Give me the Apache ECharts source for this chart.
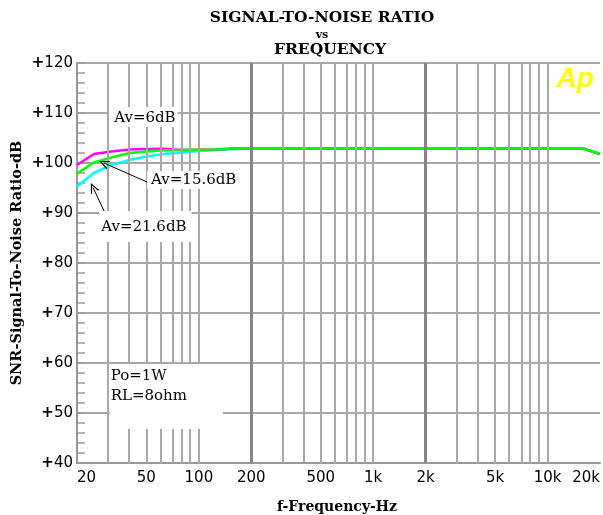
<!DOCTYPE html>
<html><head><meta charset="utf-8">
<script src="https://cdn.jsdelivr.net/npm/echarts@6/dist/echarts.min.js"></script>
<style>html,body{margin:0;padding:0;background:#fff}#c{width:603px;height:515px}</style>
</head><body><div id="c"></div>
<script>
// ---- data ----
const freqs = [20,25,31.5,40,50,63,80,100,125,160,200,250,315,400,500,630,800,1000,1250,1600,2000,2500,3150,4000,5000,6300,8000,10000,12500,16000,20000];
const snrAv6   = [99.6,101.8,102.3,102.7,102.8,102.85,102.6,102.65,102.7,102.9, 102.9,102.9,102.9,102.9,102.9,102.9,102.9,102.9,102.9,102.9,102.9,102.9,102.9,102.9,102.9,102.9,102.9,102.9,102.9,102.9, 101.8];
const snrAv156 = [97.9,100.1,101.1,102.0,102.3,102.55,102.6,102.65,102.7,102.9, 102.9,102.9,102.9,102.9,102.9,102.9,102.9,102.9,102.9,102.9,102.9,102.9,102.9,102.9,102.9,102.9,102.9,102.9,102.9,102.9, 101.8];
const snrAv216 = [95.3,98.0,99.6,100.6,101.3,101.8,102.1,102.4,102.6,102.8, 102.9,102.9,102.9,102.9,102.9,102.9,102.9,102.9,102.9,102.9,102.9,102.9,102.9,102.9,102.9,102.9,102.9,102.9,102.9,102.9, 101.8];
const xTickValues = [20,50,100,200,500,1000,2000,5000,10000,20000];
const xTickLabels = ['20','50','100','200','500','1k','2k','5k','10k','20k'];
const minorGridFreqs = [30,40,50,60,70,80,90,100,300,400,500,600,700,800,900,1000,3000,4000,5000,6000,7000,8000,9000,10000];
const majorGridFreqs = [200,2000];
const yMin = 40, yMax = 120, yStep = 10;

// ---- chart ----
const lg = Math.log10;
const pts = arr => freqs.map((f, i) => [lg(f), arr[i]]);
const serif = '"DejaVu Serif"';
const sans = '"DejaVu Sans"';

function boxLabel(text, padding, extra) {
  return Object.assign({
    show: true, formatter: text, position: [0, 0], align: 'left', verticalAlign: 'top',
    backgroundColor: '#fff', padding: padding, color: '#000', opacity: 1,
    fontFamily: serif, fontSize: 15, lineHeight: 16, textBorderWidth: 0
  }, extra || {});
}

const chevron = 'path://M0,10 L5,0 L10,10 L8.6,10 L5,2.6 L1.4,10 Z';

const option = {
  animation: false,
  backgroundColor: '#fff',
  grid: { left: 77, right: 0, top: 63, bottom: 52, containLabel: false },
  xAxis: {
    type: 'value', min: lg(20), max: lg(20000),
    axisLine: { show: true, onZero: false, lineStyle: { color: '#999', width: 2 } },
    axisTick: { show: false },
    splitLine: { show: false },
    axisLabel: {
      customValues: xTickValues.map(lg),
      formatter: v => { const i = xTickValues.findIndex(t => Math.abs(lg(t) - v) < 1e-6); return i >= 0 ? xTickLabels[i] : ''; },
      color: '#000', fontFamily: sans, fontSize: 15, margin: 8,
      alignMinLabel: 'left', alignMaxLabel: 'right', hideOverlap: false
    }
  },
  yAxis: {
    type: 'value', min: yMin, max: yMax, interval: yStep,
    axisLine: { show: true, lineStyle: { color: '#999', width: 2 } },
    axisTick: { show: true, inside: true, length: 8, lineStyle: { color: '#999', width: 1.5 } },
    minorTick: { show: true, splitNumber: 5, length: 8, lineStyle: { color: '#999', width: 1.5 } },
    splitLine: { show: true, lineStyle: { color: '#a8a8a8', width: 2 } },
    axisLabel: {
      margin: 4, color: '#000',
      formatter: v => '{p|+}{n|' + v + '}',
      rich: {
        p: { fontFamily: sans, fontWeight: 'bold', fontSize: 15, color: '#000' },
        n: { fontFamily: sans, fontSize: 15, color: '#000' }
      }
    }
  },
  graphic: [
    { type: 'text', x: 322, y: 18, style: { text: 'SIGNAL-TO-NOISE RATIO', align: 'center', verticalAlign: 'middle', fill: '#000', font: 'bold 15.5px "DejaVu Serif"' } },
    { type: 'text', x: 322, y: 35, style: { text: 'vs', align: 'center', verticalAlign: 'middle', fill: '#000', font: 'bold 11px "DejaVu Serif"' } },
    { type: 'text', x: 330, y: 50, style: { text: 'FREQUENCY', align: 'center', verticalAlign: 'middle', fill: '#000', font: 'bold 15.5px "DejaVu Serif"' } },
    { type: 'text', x: 337, y: 507, style: { text: 'f-Frequency-Hz', align: 'center', verticalAlign: 'middle', fill: '#000', font: 'bold 14px "DejaVu Serif"' } },
    { type: 'text', x: 17, y: 263, rotation: Math.PI / 2, style: { text: 'SNR-Signal-To-Noise Ratio-dB', align: 'center', verticalAlign: 'middle', fill: '#000', font: 'bold 14.5px "DejaVu Serif"' } }
  ],
  series: [
    {
      name: 'grid', type: 'line', data: [], z: 1, silent: true,
      markLine: {
        silent: true, animation: false, symbol: 'none', label: { show: false },
        lineStyle: { type: 'solid' },
        data: minorGridFreqs.map(f => ({ xAxis: lg(f), lineStyle: { color: '#a8a8a8', width: 2, type: 'solid' } }))
          .concat(majorGridFreqs.map(f => ({ xAxis: lg(f), lineStyle: { color: '#858585', width: 3, type: 'solid' } })))
      }
    },
    { name: 'Av=21.6dB', type: 'line', z: 3, data: pts(snrAv216), showSymbol: false, symbol: 'none', lineStyle: { color: '#00ffff', width: 2.5 } },
    { name: 'Av=6dB', type: 'line', z: 3, data: pts(snrAv6), showSymbol: false, symbol: 'none', lineStyle: { color: '#ff00ff', width: 2.5 } },
    { name: 'Av=15.6dB', type: 'line', z: 3, data: pts(snrAv156), showSymbol: false, symbol: 'none', lineStyle: { color: '#00ff00', width: 2.5 } },
    {
      name: 'notes', type: 'scatter', z: 5, silent: true, symbolSize: 1,
      itemStyle: { color: 'rgba(0,0,0,0)', opacity: 1 },
      emphasis: { disabled: true },
      data: [
        { value: [lg(30.8), 111.1], label: boxLabel('Av=6dB', [3, 2, 1, 5]) },
        { value: [lg(50.8), 98.3], label: boxLabel('Av=15.6dB', [1, 2, 1, 4]) },
        { value: [lg(27.0), 90.3], label: boxLabel('Av=21.6dB', [8, 5, 7, 2]) },
        { value: [lg(31.0), 59.7], label: boxLabel('Po=1W\nRL=8ohm', [2, 36, 23, 1], { lineHeight: 20 }) },
        { value: [lg(11350), 116.7], label: { show: true, formatter: 'Ap', position: [0, 0], align: 'left', verticalAlign: 'middle', color: '#ffff00', opacity: 1, fontFamily: '"Liberation Sans"', fontWeight: 'bold', fontStyle: 'italic', fontSize: 28 } }
      ]
    },
    {
      name: 'arrows', type: 'line', data: [], z: 6, silent: true,
      markLine: {
        silent: true, animation: false, symbol: ['none', chevron], symbolSize: [9, 10],
        label: { show: false },
        lineStyle: { color: '#000', width: 1, type: 'solid' },
        data: [
          [{ coord: [lg(52), 96.0] }, { coord: [lg(28.5), 100.0] }],
          [{ coord: [lg(29.6), 89.3] }, { coord: [lg(24.7), 95.1] }]
        ]
      }
    }
  ]
};
const chart = echarts.init(document.getElementById('c'), null, { renderer: 'canvas' });
chart.setOption(option);
</script></body></html>
